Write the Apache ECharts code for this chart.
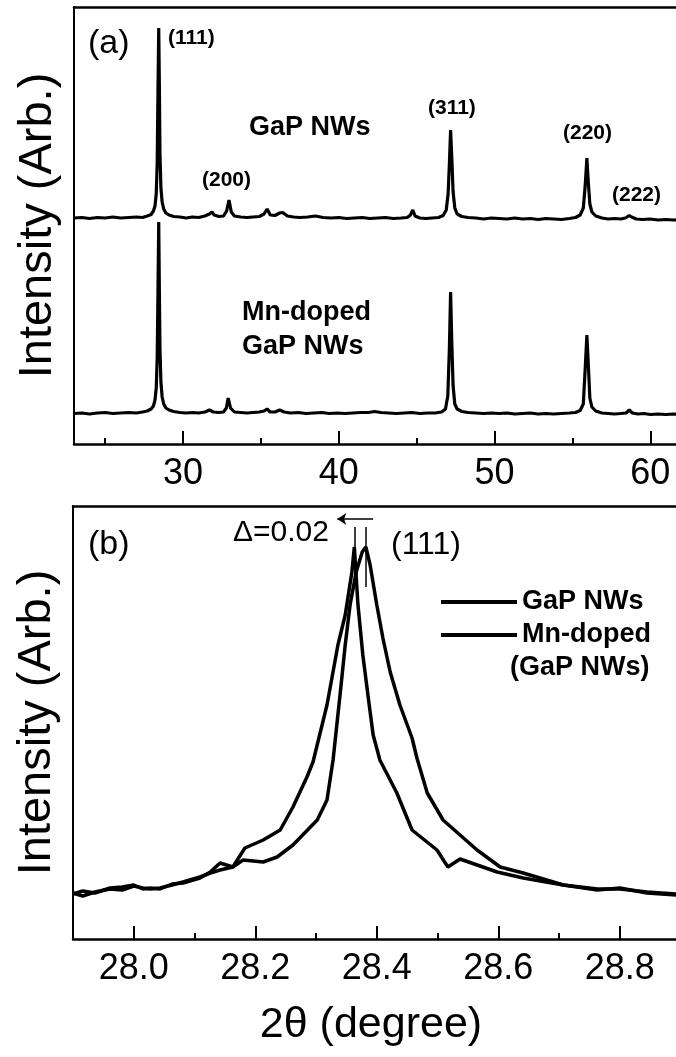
<!DOCTYPE html>
<html>
<head>
<meta charset="utf-8">
<title>XRD of GaP and Mn-doped GaP nanowires</title>
<script src="https://cdn.jsdelivr.net/npm/echarts@6.0.0/dist/echarts.min.js"></script>
<style>
  html, body { margin: 0; padding: 0; background: #fff; }
  #main { width: 676px; height: 1057px; }
</style>
</head>
<body>
<div id="main"></div>
<script>
// panel (a): wide 2theta scan, [2theta, intensity (arb.)]
const gapA = [
  [23.0,226],[23.5,226.5],[24.0,225.5],[24.5,226.5],[25.0,226],[25.5,227],[26.0,226],[26.5,226.5],
  [27.0,227],[27.4,226.5],[27.7,228],[27.95,229.5],[28.1,233],[28.2,238],[28.28,250],[28.34,280],
  [28.39,350],[28.44,416],[28.48,360],[28.52,290],[28.58,256],[28.66,242],[28.76,235],[28.9,231],
  [29.1,229],[29.4,227.5],[29.8,227],[30.2,226],[30.6,227],[31.0,226.5],[31.4,228],[31.7,230],
  [31.86,232],[32.0,229],[32.3,227.5],[32.6,228],[32.8,233],[32.95,244],[33.1,232],[33.3,228],
  [33.7,227],[34.1,226.5],[34.5,227],[34.9,227.5],[35.2,230],[35.4,235],[35.6,229],[35.9,228.5],
  [36.2,231],[36.4,231.5],[36.7,228],[37.1,227],[37.5,226.5],[38.0,227],[38.5,228],[39.0,226.5],
  [39.5,226],[40.0,226.5],[40.5,225.5],[41.0,226],[41.5,226.5],[42.0,225.5],[42.5,226],[43.0,226.5],
  [43.5,225.5],[44.0,226],[44.4,226.5],[44.6,229],[44.75,234],[44.9,228],[45.2,226],[45.6,225.5],
  [46.0,226],[46.4,226.5],[46.7,228.5],[46.9,234],[47.02,250],[47.1,280],[47.18,314],[47.26,285],
  [47.34,252],[47.45,236],[47.6,230],[47.9,227.5],[48.3,226.5],[48.8,226],[49.3,225],[49.8,226],
  [50.3,225.5],[50.8,225],[51.3,226],[51.8,225],[52.3,225.5],[52.8,224.5],[53.3,225.5],[53.8,225],
  [54.3,224.5],[54.8,225.5],[55.2,226.5],[55.5,229],[55.7,236],[55.82,258],[55.93,286],[56.02,262],
  [56.12,240],[56.25,232],[56.5,228],[56.9,226],[57.3,225],[57.7,225.5],[58.1,225],[58.4,226],
  [58.65,228.5],[58.8,227],[59.1,225],[59.5,224.5],[60.0,225],[60.5,224],[61.0,224.5],[61.5,224],
  [62.0,224.5],[62.5,224],[63.0,224]
];
const mnA = [
  [23.0,30.5],[23.5,31],[24.0,30],[24.5,31],[25.0,31.5],[25.5,30.5],[26.0,31],[26.5,31.5],
  [27.0,31],[27.4,32],[27.7,33],[27.95,35],[28.1,38],[28.2,44],[28.28,56],[28.34,85],
  [28.39,150],[28.44,222],[28.48,155],[28.52,95],[28.58,62],[28.66,47],[28.76,40],[28.9,36],
  [29.1,34],[29.4,32.5],[29.8,31.5],[30.2,31],[30.6,31.5],[31.0,31],[31.4,32],[31.7,34],
  [31.95,32],[32.3,31.5],[32.6,32],[32.78,36],[32.9,46],[33.05,36],[33.3,32],[33.7,31.5],
  [34.1,31],[34.5,31.5],[34.9,32],[35.2,33],[35.4,35],[35.6,32],[35.9,32],[36.2,34],
  [36.5,32],[36.9,31],[37.4,31.5],[37.9,30.5],[38.4,31],[38.9,31.5],[39.4,30.5],[39.9,31],
  [40.4,30.5],[40.9,31],[41.4,31.5],[41.9,31.5],[42.3,32.5],[42.7,31.5],[43.2,31],[43.7,30.5],
  [44.2,31],[44.7,31.5],[45.2,30.5],[45.7,31],[46.2,31],[46.6,32],[46.85,35],[47.0,48],
  [47.1,95],[47.18,152],[47.26,100],[47.34,58],[47.45,40],[47.6,35],[47.9,32.5],[48.3,31.5],
  [48.8,31],[49.3,30.5],[49.8,31],[50.3,30.5],[50.8,31],[51.3,30],[51.8,30.5],[52.3,31],
  [52.8,30],[53.3,30.5],[53.8,30],[54.3,30.5],[54.8,31],[55.2,31.5],[55.5,33.5],[55.7,40],
  [55.82,75],[55.93,109],[56.02,80],[56.12,46],[56.25,37],[56.5,33],[56.9,31],[57.3,30.5],
  [57.7,30],[58.1,30.5],[58.45,31],[58.65,34],[58.85,31],[59.2,30],[59.6,30.5],[60.0,29.5],
  [60.5,30],[61.0,29.5],[61.5,30],[62.0,29.5],[62.5,29.5],[63.0,29]
];

// panel (b): (111) peak close-up
const gapB = [
  [27.9,45],[27.916,48],[27.936,46],[27.961,51],[27.981,52],[28.0,54],[28.015,50],[28.027,51],
  [28.043,50],[28.063,55],[28.081,56],[28.109,61],[28.126,67],[28.142,76],[28.163,72],[28.18,79],
  [28.213,77],[28.236,82],[28.262,94],[28.302,119],[28.318,139],[28.328,179],[28.34,247],[28.348,294],
  [28.356,334],[28.366,367],[28.376,387],[28.382,392],[28.389,374],[28.4,334],[28.41,301],[28.422,267],
  [28.438,234],[28.458,201],[28.466,181],[28.483,146],[28.509,119],[28.565,89],[28.603,72],[28.641,66],
  [28.707,54],[28.763,50],[28.8,50],[28.845,47],[28.893,45],[28.95,44]
];
const mnB = [
  [27.9,46],[27.916,43],[27.936,47],[27.961,50],[27.981,49],[28.0,53],[28.015,51],[28.027,50],
  [28.043,51],[28.063,54],[28.081,57],[28.109,62],[28.126,66],[28.142,69],[28.163,72],[28.183,91],
  [28.213,99],[28.241,109],[28.262,132],[28.285,162],[28.295,177],[28.318,234],[28.336,294],[28.348,324],
  [28.359,367],[28.363,392],[28.369,334],[28.377,284],[28.386,241],[28.394,204],[28.402,186],[28.405,179],
  [28.433,146],[28.458,109],[28.499,89],[28.517,72],[28.537,80],[28.598,67],[28.641,61],[28.707,54],
  [28.763,49],[28.8,51],[28.845,46],[28.893,44],[28.95,43]
];

// tick labels
const majorA = [30, 40, 50, 60];
const minorA = [25, 35, 45, 55];
const majorB = [28.0, 28.2, 28.4, 28.6, 28.8];
const minorB = [28.1, 28.3, 28.5, 28.7];

// peak positions for the shift marker in (b)
const peakMn = [28.363, 392];
const peakGaP = [28.382, 392];

const FONT = '"Liberation Sans", Arial, Helvetica, sans-serif';
const BLACK = '#000';

const chart = echarts.init(document.getElementById('main'), null, { renderer: 'canvas' });

// bottom axis with big ticks + labels
const majorAxis = (grid, min, max, ticks, fmt) => ({
  gridIndex: grid, type: 'value', min, max, position: 'bottom',
  axisLine: { show: true, onZero: false, lineStyle: { color: BLACK, width: 2.5 } },
  axisTick: { show: true, inside: true, length: 13, customValues: ticks, lineStyle: { color: BLACK, width: 2 } },
  axisLabel: { show: true, customValues: ticks, formatter: fmt, fontSize: 36, color: BLACK, fontFamily: FONT, margin: 12 },
  splitLine: { show: false }
});
// second bottom axis only for the short minor ticks
const minorAxis = (grid, min, max, ticks) => ({
  gridIndex: grid, type: 'value', min, max, position: 'bottom',
  axisLine: { show: false, onZero: false },
  axisTick: { show: true, inside: true, length: 6, customValues: ticks, lineStyle: { color: BLACK, width: 2 } },
  axisLabel: { show: false },
  splitLine: { show: false }
});
// top frame line
const topAxis = (grid, min, max) => ({
  gridIndex: grid, type: 'value', min, max, position: 'top',
  axisLine: { show: true, onZero: false, lineStyle: { color: BLACK, width: 2.5 } },
  axisTick: { show: false }, axisLabel: { show: false }, splitLine: { show: false }
});
const yAxisFor = (grid, max) => ({
  gridIndex: grid, type: 'value', min: 0, max,
  axisLine: { show: true, onZero: false, lineStyle: { color: BLACK, width: 2 } },
  axisTick: { show: false }, axisLabel: { show: false }, splitLine: { show: false },
  name: 'Intensity (Arb.)', nameLocation: 'middle', nameGap: 12,
  nameTextStyle: { fontSize: 47, color: BLACK, fontFamily: FONT }
});

const txt = (text, x, y, size, bold) => ({
  type: 'text', x, y, silent: true,
  style: {
    text, fill: BLACK, font: (bold ? 'bold ' : '') + size + 'px ' + FONT,
    textAlign: 'left', textVerticalAlign: 'middle', align: 'left', verticalAlign: 'middle'
  }
});

const lineSeries = (name, data, xi, yi, w) => ({
  name, type: 'line', data, xAxisIndex: xi, yAxisIndex: yi,
  symbol: 'none', showSymbol: false, smooth: false,
  lineStyle: { color: BLACK, width: w }, itemStyle: { color: BLACK },
  animation: false
});

const option = {
  backgroundColor: '#fff',
  animation: false,
  grid: [
    { left: 74, top: 7, width: 623, height: 437, outerBoundsMode: 'none' },
    { left: 73, top: 506, width: 638, height: 433, outerBoundsMode: 'none' }
  ],
  xAxis: [
    majorAxis(0, 23, 63, majorA, v => String(v)),
    minorAxis(0, 23, 63, minorA),
    topAxis(0, 23, 63),
    majorAxis(1, 27.9, 28.95, majorB, v => v.toFixed(1)),
    minorAxis(1, 27.9, 28.95, minorB),
    topAxis(1, 27.9, 28.95)
  ],
  yAxis: [yAxisFor(0, 437), yAxisFor(1, 433)],
  legend: {
    data: ['GaP NWs', 'Mn-doped'],
    orient: 'vertical', left: 436, top: 583,
    icon: 'rect', itemWidth: 76, itemHeight: 4, itemGap: 5,
    selectedMode: false,
    textStyle: { fontSize: 27, fontWeight: 'bold', color: BLACK, fontFamily: FONT, lineHeight: 28 }
  },
  series: [
    lineSeries('GaP NWs (a)', gapA, 0, 0, 3.2),
    lineSeries('Mn-doped (a)', mnA, 0, 0, 3.2),
    lineSeries('GaP NWs', gapB, 3, 1, 3.5),
    Object.assign(lineSeries('Mn-doped', mnB, 3, 1, 3.5), {
      markLine: {
        silent: true, animation: false, symbol: ['none', 'none'], symbolSize: 10,
        label: { show: false },
        lineStyle: { color: BLACK, width: 1.5, type: 'solid' },
        data: [
          [{ coord: [peakMn[0], peakMn[1]] }, { coord: [peakMn[0], 412] }],
          [{ coord: [peakGaP[0], 352] }, { coord: [peakGaP[0], 412] }],
          [{ coord: [28.394, 420] }, { coord: [28.335, 420], symbol: 'arrow', symbolSize: 9 }]
        ]
      }
    })
  ],
  graphic: [
    txt('(a)', 88, 44, 34, false),
    txt('(111)', 168, 38, 21, true),
    txt('(200)', 202, 180, 21, true),
    txt('(311)', 428, 108, 21, true),
    txt('(220)', 563, 133, 21, true),
    txt('(222)', 612, 195, 21, true),
    txt('GaP NWs', 249, 128, 27, true),
    txt('Mn-doped', 242, 313, 27, true),
    txt('GaP NWs', 242, 347, 27, true),
    txt('(b)', 88, 545, 34, false),
    txt('\u0394=0.02', 233, 533, 30, false),
    txt('(111)', 391, 545, 32, false),
    txt('(GaP NWs)', 510, 668, 27, true),
    {
      type: 'text', x: 371, y: 1025, silent: true,
      style: {
        text: '2\u03b8 (degree)', fill: BLACK, font: '43px ' + FONT,
        textAlign: 'center', textVerticalAlign: 'middle', align: 'center', verticalAlign: 'middle'
      }
    }
  ]
};

chart.setOption(option);
</script>
</body>
</html>
